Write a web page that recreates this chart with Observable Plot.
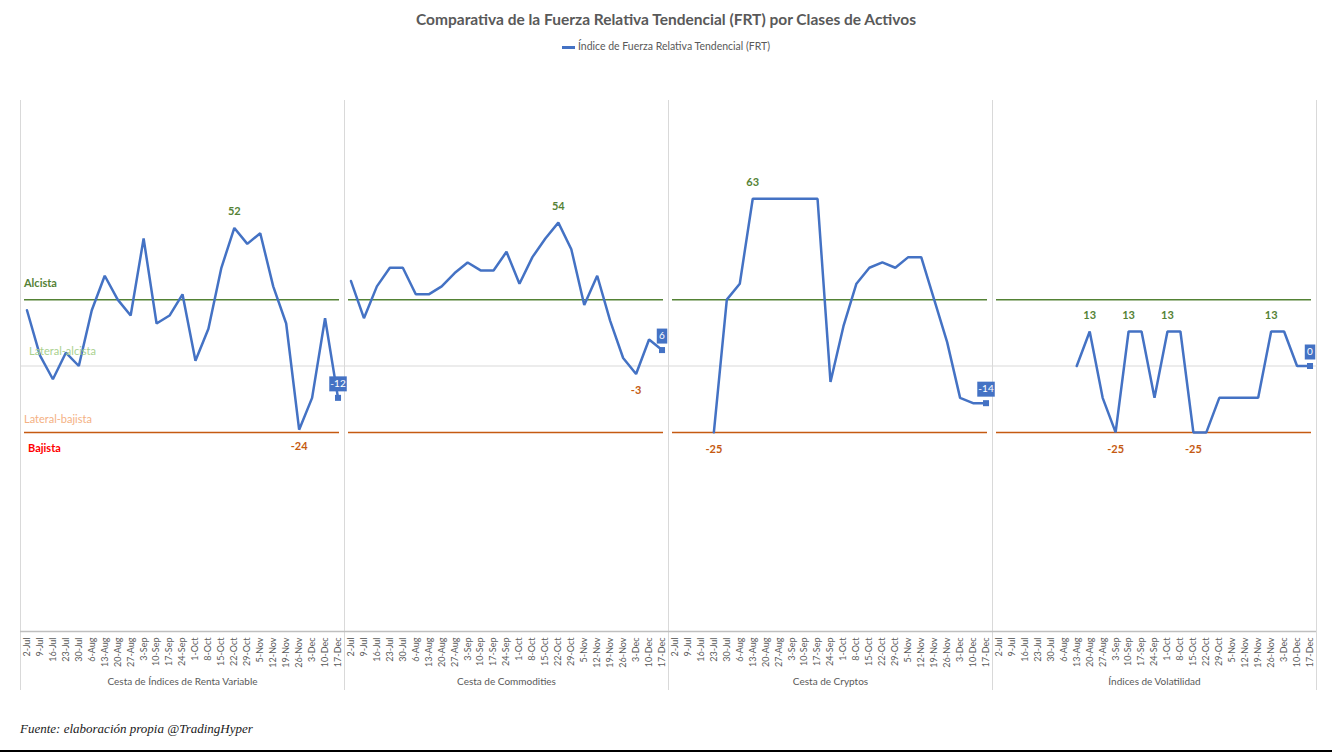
<!DOCTYPE html>
<html><head><meta charset="utf-8">
<script src="https://cdn.jsdelivr.net/npm/d3@7"></script>
<script src="https://cdn.jsdelivr.net/npm/@observablehq/plot@0.6"></script>
<style>
body{margin:0;background:#fff;width:1332px;height:753px;position:relative;overflow:hidden;font-family:Lato,"Open Sans",sans-serif;}
#title{height:38px;line-height:38px;text-align:center;font-weight:bold;font-size:15.5px;color:#595959;}
#legend{height:16px;line-height:16px;text-align:center;font-size:10.5px;color:#595959;}
#legend .sw{display:inline-block;width:13px;height:3px;background:#4472C4;vertical-align:middle;margin-right:3px;}
#chart{height:646px}
#chart svg{display:block}
#footer{position:absolute;left:20px;top:719px;font-family:"Liberation Serif","DejaVu Serif",serif;font-style:italic;font-size:13px;color:#1a1a1a;line-height:20px}
#bottomline{position:absolute;left:0;top:750px;width:1332px;height:2px;background:#000}
</style></head><body>
<div id="title">Comparativa de la Fuerza Relativa Tendencial (FRT) por Clases de Activos</div>
<div id="legend"><span class="sw"></span>Índice de Fuerza Relativa Tendencial (FRT)</div>
<div id="chart"></div>
<div id="footer">Fuente: elaboración propia @TradingHyper</div>
<div id="bottomline"></div>
<script>
const panels = ["Cesta de Índices de Renta Variable","Cesta de Commodities","Cesta de Cryptos","Índices de Volatilidad"];
const dates = ["2-Jul","9-Jul","16-Jul","23-Jul","30-Jul","6-Aug","13-Aug","20-Aug","27-Aug","3-Sep","10-Sep","17-Sep","24-Sep","1-Oct","8-Oct","15-Oct","22-Oct","29-Oct","5-Nov","12-Nov","19-Nov","26-Nov","3-Dec","10-Dec","17-Dec"];
const rentaVariable = [21,4,-5,5,0,21,34,25,19,48,16,19,27,2,14,37,52,46,50,30,16,-24,-12,18,-12];
const commodities = [32,18,30,37,37,27,27,30,35,39,36,36,43,31,41,48,54,44,23,34,17,3,-3,10,6];
const cryptos = [null,null,null,-25,25,31,63,63,63,63,63,63,-6,15,31,37,39,37,41,41,25,9,-12,-14,-14];
const volatilidad = [null,null,null,null,null,null,0,13,-12,-25,13,13,-12,13,13,-25,-25,-12,-12,-12,-12,13,13,0,0];
const thresholdNames = ["Alcista","Lateral-alcista","Lateral-bajista","Bajista"];
const thresholdValues = [25,0,-25,-25];

const series = [rentaVariable, commodities, cryptos, volatilidad];
const points = panels.flatMap((p, pi) => dates.map((d, i) => ({panel: p, date: d, value: series[pi][i]})));
const valid = points.filter(d => d.value != null);
const extremes = [];
panels.forEach((p, pi) => {
  const s = series[pi];
  const vals = s.filter(v => v != null);
  const mx = d3.max(vals), mn = d3.min(vals);
  s.forEach((v, i) => {
    if (v == null) return;
    if (v === mx && s[i-1] !== mx) extremes.push({panel: p, date: dates[i], value: v, kind: "max"});
    if (v === mn && s[i-1] !== mn) extremes.push({panel: p, date: dates[i], value: v, kind: "min"});
  });
});
const lastPoints = panels.map((p, pi) => ({panel: p, date: dates[dates.length-1], value: series[pi][dates.length-1]}));

const W = 1332, ML = 20, MR = 16;
const step = (W - ML - MR) / panels.length / dates.length;
const boxSymbol = w => ({draw(ctx){ ctx.rect(-w/2, -7.5, w, 15); }});
const blue = "#4472C4";
const thColors = ["#548235","#A9D18E","#F4B183","#FF0000"];
const thDx = [-3, 2, -3, 1];
const thDy = [-16, -15, -13, 16];

const marks = [
  Plot.ruleY([0], {stroke: "#d9d9d9", strokeWidth: 1}),
  Plot.ruleX(panels, {fx: d => d, x: () => dates[0], dx: -step/2, stroke: "#d9d9d9"}),
  Plot.ruleX([panels[panels.length-1]], {fx: d => d, x: () => dates[dates.length-1], dx: step/2, stroke: "#d9d9d9"}),
  Plot.ruleY([-100], {stroke: "#bfbfbf", strokeWidth: 1.5}),
  Plot.ruleY([thresholdValues[0]], {stroke: "#548235", strokeWidth: 1.5, insetLeft: 4, insetRight: 5}),
  Plot.ruleY([thresholdValues[3]], {stroke: "#C55A11", strokeWidth: 1.5, insetLeft: 4, insetRight: 5}),
  Plot.line(valid, {fx: "panel", x: "date", y: "value", stroke: blue, strokeWidth: 2.5, strokeLinejoin: "miter"}),
  Plot.text(extremes.filter(d => d.kind === "max"), {fx: "panel", x: "date", y: "value", text: d => String(d.value), dy: -16, fill: "#548235", fontSize: 11, fontWeight: "bold"}),
  Plot.text(extremes.filter(d => d.kind === "min"), {fx: "panel", x: "date", y: "value", text: d => String(d.value), dy: 17, fill: "#C55A11", fontSize: 11, fontWeight: "bold"}),
  Plot.dot(lastPoints, {fx: "panel", x: "date", y: "value", symbol: "square", r: 3.4, fill: blue, stroke: "none"}),
  ...[1, 2, 3].map(len => Plot.dot(lastPoints.filter(d => String(d.value).length === len), {fx: "panel", x: "date", y: "value", dy: -14, symbol: boxSymbol(7 + 3.5*len), fill: blue, stroke: "none"})),
  Plot.text(lastPoints, {fx: "panel", x: "date", y: "value", text: d => String(d.value), dy: -14, fill: "white", fontSize: 10}),
  Plot.text(points, {fx: "panel", x: "date", y: () => -100, text: "date", rotate: -90, textAnchor: "end", dy: 6, fill: "#595959", fontSize: 9}),
  Plot.text(panels, {fx: d => d, text: d => d, frameAnchor: "bottom", dy: -6, fill: "#595959", fontSize: 10}),
  ...thresholdNames.map((n, i) => Plot.text([n], {fx: () => panels[0], x: () => dates[0], y: () => thresholdValues[i], text: d => d, textAnchor: "start", dx: thDx[i], dy: thDy[i], fill: thColors[i], fontSize: 11, fontWeight: i === 0 || i === 3 ? "bold" : "normal"}))
];

const chart = Plot.plot({
  width: W, height: 646,
  marginLeft: ML, marginRight: MR, marginTop: 46, marginBottom: 10,
  style: {fontFamily: "Lato, 'Open Sans', sans-serif", background: "transparent", overflow: "visible"},
  fx: {domain: panels, padding: 0, round: false, axis: null},
  x: {domain: dates, type: "point", padding: 0.5, round: false, axis: null},
  y: {domain: [-100, 100], range: [577, 46], axis: null},
  marks
});
document.getElementById("chart").append(chart);
</script>
</body></html>
